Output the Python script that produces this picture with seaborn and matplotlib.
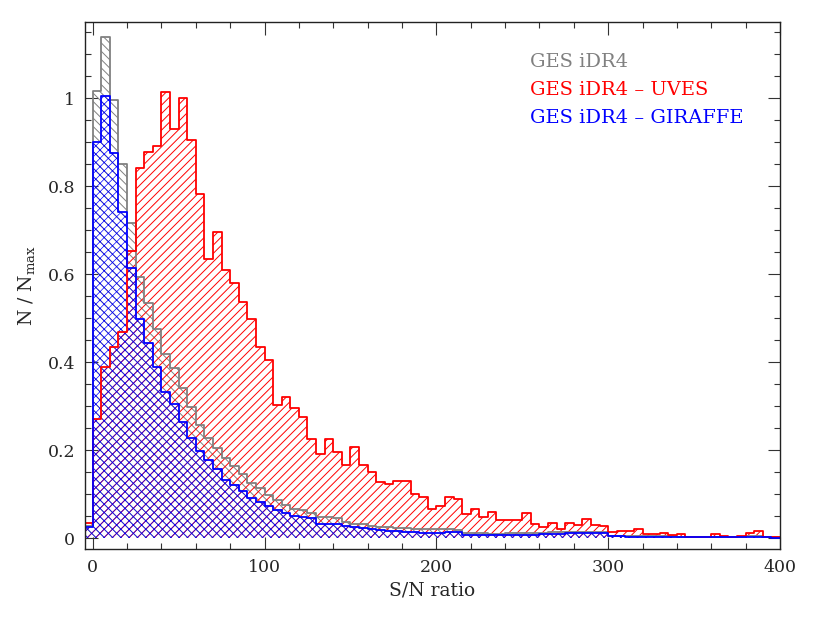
import numpy as np
import pandas as pd
import matplotlib
matplotlib.use("Agg")
import matplotlib.pyplot as plt
from matplotlib.ticker import MultipleLocator, FuncFormatter
import seaborn as sns

# ---- data (bin width 5 in S/N, from -5 to 400) ----
bin_edges = [float(v) for v in np.arange(-5, 401, 5)]

ges_all = [0.028,
           1.017, 1.139, 0.995, 0.850, 0.715, 0.594, 0.534, 0.476, 0.419,
           0.386, 0.341, 0.298, 0.256, 0.227, 0.204, 0.183, 0.163, 0.145, 0.125,
           0.113, 0.098, 0.086, 0.075, 0.067, 0.063, 0.057, 0.047, 0.047, 0.045,
           0.037, 0.033, 0.032, 0.027, 0.026, 0.024, 0.023, 0.022, 0.021, 0.020,
           0.020, 0.020, 0.020, 0.019, 0.012, 0.011, 0.011, 0.010, 0.010, 0.011,
           0.011, 0.012, 0.012, 0.012, 0.013, 0.013, 0.014, 0.014, 0.014, 0.014,
           0.013, 0.005, 0.005, 0.005, 0.005, 0.004, 0.004, 0.004, 0.004, 0.003,
           0.003, 0.003, 0.003, 0.003, 0.003, 0.003, 0.003, 0.004, 0.004, 0.003, 0.002]

ges_uves = [0.034,
            0.271, 0.388, 0.435, 0.469, 0.653, 0.842, 0.877, 0.890, 1.014,
            0.930, 1.000, 0.905, 0.782, 0.634, 0.696, 0.610, 0.579, 0.537, 0.497,
            0.434, 0.404, 0.302, 0.320, 0.295, 0.276, 0.224, 0.191, 0.224, 0.195,
            0.167, 0.207, 0.166, 0.150, 0.128, 0.122, 0.129, 0.129, 0.099, 0.094,
            0.065, 0.073, 0.094, 0.088, 0.054, 0.065, 0.048, 0.060, 0.042, 0.042,
            0.042, 0.057, 0.032, 0.025, 0.035, 0.020, 0.035, 0.029, 0.043, 0.029,
            0.027, 0.014, 0.017, 0.015, 0.020, 0.009, 0.009, 0.012, 0.007, 0.009,
            0.003, 0.003, 0.003, 0.009, 0.005, 0.003, 0.005, 0.011, 0.015, 0.003, 0.002]

ges_giraffe = [0.024,
               0.900, 1.004, 0.875, 0.741, 0.613, 0.498, 0.443, 0.388, 0.332,
               0.305, 0.263, 0.227, 0.197, 0.178, 0.156, 0.133, 0.120, 0.107, 0.090,
               0.082, 0.073, 0.063, 0.057, 0.050, 0.048, 0.045, 0.033, 0.033, 0.032,
               0.027, 0.026, 0.023, 0.020, 0.019, 0.017, 0.016, 0.014, 0.014, 0.012,
               0.012, 0.012, 0.014, 0.014, 0.007, 0.007, 0.007, 0.006, 0.006, 0.007,
               0.007, 0.008, 0.008, 0.009, 0.010, 0.010, 0.011, 0.012, 0.012, 0.012,
               0.011, 0.004, 0.004, 0.003, 0.003, 0.003, 0.003, 0.003, 0.003, 0.002,
               0.002, 0.002, 0.002, 0.002, 0.002, 0.002, 0.002, 0.002, 0.002, 0.002, 0.001]

labels = ["GES iDR4", "GES iDR4 \u2013 UVES", "GES iDR4 \u2013 GIRAFFE"]
colors = ["#808080", "#ff0000", "#0000ff"]
hatches = ["\\\\\\\\", "////", "xxxx"]
hatch_lw = [0.7, 0.7, 0.5]

bin_centers = [e + 2.5 for e in bin_edges[:-1]]
series = [ges_all, ges_uves, ges_giraffe]

# ---- style ----
sns.set_style("ticks")
plt.rcParams["font.family"] = ["DejaVu Serif"]
plt.rcParams["mathtext.fontset"] = "dejavuserif"

fig = plt.figure(figsize=(8.3, 6.21), dpi=100)
ax = fig.add_axes([0.1024, 0.1159, 0.8373, 0.8487])

# hatched fills
for vals, col, hat, hlw in zip(series, colors, hatches, hatch_lw):
    plt.rcParams["hatch.linewidth"] = hlw
    sns.histplot(x=bin_centers, weights=vals, bins=bin_edges, element="step",
                 fill=True, color=col, facecolor="none", edgecolor=col,
                 hatch=hat, linewidth=0, ax=ax)
# outlines
for vals, col in zip(series, colors):
    sns.histplot(x=bin_centers, weights=vals, bins=bin_edges, element="step",
                 fill=False, color=col, linewidth=1.3, ax=ax)

ax.set_xlim(-4.5, 400)
ax.set_ylim(-0.025, 1.173)

ax.xaxis.set_major_locator(MultipleLocator(100))
ax.xaxis.set_minor_locator(MultipleLocator(20))
ax.yaxis.set_major_locator(MultipleLocator(0.2))
ax.yaxis.set_minor_locator(MultipleLocator(0.05))
ax.yaxis.set_major_formatter(FuncFormatter(lambda v, p: f"{v:g}"))

ax.tick_params(which="both", direction="in", top=True, right=True, width=0.8,
               color="#333333")
ax.tick_params(which="major", length=9, labelsize=12.5, pad=7)
ax.tick_params(which="minor", length=4.5)
for s in ax.spines.values():
    s.set_linewidth(1.0)
    s.set_color("#222222")

ax.set_xlabel("S/N ratio", fontsize=13.5, labelpad=4)
ax.set_ylabel("N / N$_{\\mathregular{max}}$", fontsize=13.5, labelpad=8)

ys = [0.924, 0.871, 0.818]
for lab, col, yy in zip(labels, colors, ys):
    ax.text(0.640, yy, lab, color=col, fontsize=14, transform=ax.transAxes,
            va="center", ha="left")

fig.savefig("out.png", dpi=100)
